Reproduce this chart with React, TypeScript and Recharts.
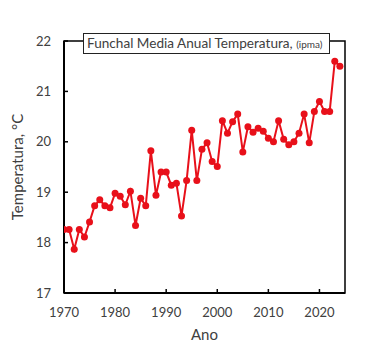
import React from "react";
import { LineChart, Line, XAxis, YAxis, ReferenceArea } from "recharts";

// Funchal annual mean temperature
const years = [
  1970, 1971, 1972, 1973, 1974, 1975, 1976, 1977, 1978, 1979,
  1980, 1981, 1982, 1983, 1984, 1985, 1986, 1987, 1988, 1989,
  1990, 1991, 1992, 1993, 1994, 1995, 1996, 1997, 1998, 1999,
  2000, 2001, 2002, 2003, 2004, 2005, 2006, 2007, 2008, 2009,
  2010, 2011, 2012, 2013, 2014, 2015, 2016, 2017, 2018, 2019,
  2020, 2021, 2022, 2023, 2024,
];
const temps = [
  18.26, 18.26, 17.87, 18.26, 18.11, 18.41, 18.73, 18.85, 18.73, 18.69,
  18.98, 18.92, 18.75, 19.02, 18.34, 18.88, 18.73, 19.82, 18.94, 19.4,
  19.4, 19.14, 19.18, 18.53, 19.23, 20.23, 19.23, 19.85, 19.98, 19.61,
  19.51, 20.42, 20.17, 20.4, 20.55, 19.8, 20.3, 20.19, 20.27, 20.21,
  20.07, 20.0, 20.42, 20.05, 19.94, 20.0, 20.17, 20.55, 19.98, 20.6,
  20.8, 20.6, 20.6, 21.6, 21.5,
];
const xTicks = [1970, 1980, 1990, 2000, 2010, 2020];
const yTicks = [17, 18, 19, 20, 21, 22];

const data = years.map((year, i) => ({ year, temp: temps[i] }));

const FONT = "Lato, 'Liberation Sans', sans-serif";
const TEXT = "#404040";
const RED = "#e8101a";

const YTick = (props: any) => {
  const { x, y, payload } = props;
  return (
    <g>
      <line x1={x} x2={x + 4} y1={y} y2={y} stroke="#000" strokeWidth={1.5} />
      <text x={x - 13} y={y} dy={4.5} textAnchor="end" fill={TEXT} fontSize={13} fontFamily={FONT}>
        {payload.value}
      </text>
    </g>
  );
};

const XTick = (props: any) => {
  const { x, y, payload } = props;
  return (
    <g>
      <line x1={x} x2={x} y1={y} y2={y - 4} stroke="#000" strokeWidth={1.5} />
      <text x={x} y={y + 24} textAnchor="middle" fill={TEXT} fontSize={13} fontFamily={FONT}>
        {payload.value}
      </text>
    </g>
  );
};

const YLabel = (props: any) => {
  const { viewBox } = props;
  const cx = viewBox.x + 18;
  const cy = viewBox.y + viewBox.height / 2;
  return (
    <text x={cx} y={cy} dy={5} transform={`rotate(-90 ${cx} ${cy})`} textAnchor="middle" fill={TEXT} fontSize={15} fontFamily={FONT}>
      Temperatura, °C
    </text>
  );
};

const XLabel = (props: any) => {
  const { viewBox } = props;
  return (
    <text x={viewBox.x + viewBox.width / 2} y={viewBox.y + 47} textAnchor="middle" fill={TEXT} fontSize={15} fontFamily={FONT}>
      Ano
    </text>
  );
};

export default function App() {
  return (
    <div style={{ position: "absolute", left: 0, top: 0, width: 373, height: 358, background: "#fff" }}>
      <LineChart width={373} height={358} data={data} margin={{ top: 41, right: 28, bottom: 0, left: 0 }}>
        <XAxis
          dataKey="year"
          type="number"
          domain={[1970, 2025]}
          ticks={xTicks}
          allowDataOverflow
          height={65}
          tickSize={0}
          tickMargin={0}
          tickLine={false}
          tick={<XTick />}
          axisLine={{ stroke: "#000", strokeWidth: 2 }}
          label={<XLabel />}
        />
        <YAxis
          type="number"
          domain={[17, 22]}
          ticks={yTicks}
          allowDataOverflow
          width={64}
          tickSize={0}
          tickMargin={0}
          tickLine={false}
          tick={<YTick />}
          axisLine={{ stroke: "#000", strokeWidth: 2 }}
          label={<YLabel />}
        />
        <ReferenceArea x1={1970} x2={2025} y1={17} y2={22} fill="none" stroke="#000" strokeWidth={1.5} />
        <Line
          dataKey="temp"
          type="linear"
          stroke={RED}
          strokeWidth={2}
          dot={{ r: 3.5, fill: RED, stroke: RED, strokeWidth: 0 }}
          isAnimationActive={false}
        />
      </LineChart>
      <div
        style={{
          position: "absolute",
          left: 83,
          top: 33,
          width: 242,
          height: 19,
          border: "1px solid #222",
          background: "#fff",
          fontFamily: FONT,
          fontSize: 13.6,
          lineHeight: "19px",
          color: TEXT,
          paddingLeft: 3,
          whiteSpace: "nowrap",
          boxSizing: "content-box",
        }}
      >
        Funchal Media Anual Temperatura, <span style={{ fontSize: 10 }}>(ipma)</span>
      </div>
    </div>
  );
}
